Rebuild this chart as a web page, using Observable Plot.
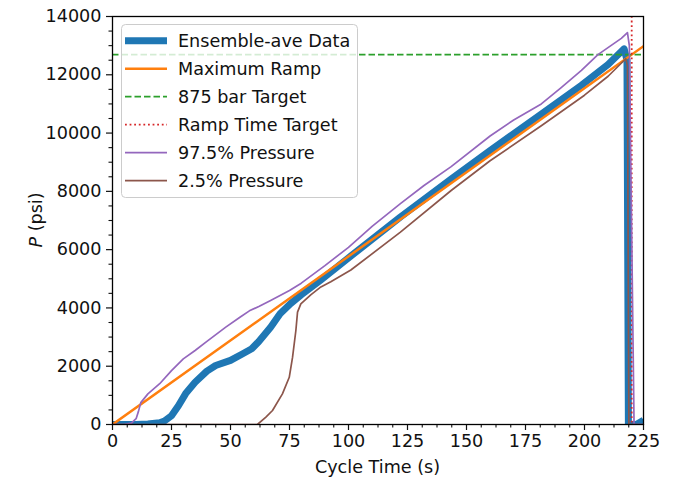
<!DOCTYPE html>
<html>
<head>
<meta charset="utf-8">
<script src="https://cdn.jsdelivr.net/npm/d3@7"></script>
<script src="https://cdn.jsdelivr.net/npm/@observablehq/plot@0.6"></script>
<style>
  html, body { margin: 0; padding: 0; background: white; }
  #wrap { position: relative; width: 673px; height: 477px; }
  #legend { position: absolute; left: 0; top: 0; pointer-events: none; }
</style>
</head>
<body>
<div id="wrap"></div>
<script>
// ---------- data ----------
const blueT = [0, 10, 15, 20, 22, 25, 28, 31, 35, 40, 43.7, 50, 55, 59, 62, 67, 71, 75.5, 80, 88, 101, 122, 143.5, 160, 181.7, 198.7, 210, 216.8, 218, 218.6, 222, 225];
const blueP = [0, 0, 20, 60, 120, 300, 650, 1060, 1450, 1830, 2025, 2200, 2420, 2600, 2850, 3340, 3800, 4150, 4450, 4940, 5780, 7120, 8420, 9400, 10650, 11640, 12350, 12890, 12500, 0, 0, 150];

const rampT = [0, 225];
const rampP = [0, 12980];

const targetP = 12691;   // 875 bar
const rampTimeT = 220;   // ramp time target (s)

const purpleT = [0, 5, 8, 10, 11, 12, 15, 20, 25, 30, 35, 40, 48, 54, 58, 62, 67, 75, 80, 90, 100, 110, 122, 132, 143.5, 160, 170, 181.7, 190, 198.7, 205.7, 215.6, 218.2, 219, 221, 225];
const purpleP = [0, 0, 50, 200, 450, 750, 1050, 1400, 1850, 2250, 2540, 2850, 3340, 3680, 3900, 4050, 4255, 4600, 4850, 5450, 6080, 6800, 7580, 8200, 8850, 9900, 10450, 11000, 11550, 12150, 12691, 13250, 13450, 13000, 0, 0];

const brownT = [0, 61.4, 65, 67.8, 72, 74.9, 76.3, 77.7, 78.4, 79.8, 84, 88.3, 92.5, 101, 122, 143.5, 160, 181.7, 200, 210, 217.5, 218.2, 218.8, 225];
const brownP = [0, 0, 250, 480, 1050, 1620, 2310, 3225, 3855, 4140, 4450, 4720, 4900, 5300, 6600, 8030, 9050, 10250, 11300, 11950, 12550, 12300, 0, 0];

const xMajor = [0, 25, 50, 75, 100, 125, 150, 175, 200, 225];
const xMinor = [6.25, 12.5, 18.75, 31.25, 37.5, 43.75, 56.25, 62.5, 68.75, 81.25, 87.5, 93.75, 106.25, 112.5, 118.75, 131.25, 137.5, 143.75, 156.25, 162.5, 168.75, 181.25, 187.5, 193.75, 206.25, 212.5, 218.75];
const yMajor = [0, 2000, 4000, 6000, 8000, 10000, 12000, 14000];
const yMinor = [500, 1000, 1500, 2500, 3000, 3500, 4500, 5000, 5500, 6500, 7000, 7500, 8500, 9000, 9500, 10500, 11000, 11500, 12500, 13000, 13500];

const legendLabels = ["Ensemble-ave Data", "Maximum Ramp", "875 bar Target", "Ramp Time Target", "97.5% Pressure", "2.5% Pressure"];

// ---------- build tables ----------
const zip = (T, P) => T.map((t, i) => ({t, p: P[i]}));
const blue = zip(blueT, blueP);
const ramp = zip(rampT, rampP);
const purple = zip(purpleT, purpleP);
const brown = zip(brownT, brownP);

// ---------- styles ----------
const FONT = "'DejaVu Sans', 'Liberation Sans', sans-serif";
const FS = 17.6;
const styles = [
  {stroke: "#1f77b4", width: 7, dash: null},
  {stroke: "#ff7f0e", width: 2.5, dash: null},
  {stroke: "#2ca02c", width: 1.8, dash: "6.5,3"},
  {stroke: "#d62728", width: 1.8, dash: "1.8,2.8"},
  {stroke: "#9467bd", width: 1.7, dash: null},
  {stroke: "#8c564b", width: 1.7, dash: null}
];

const chart = Plot.plot({
  width: 673,
  height: 477,
  marginLeft: 112,
  marginRight: 30,
  marginTop: 16,
  marginBottom: 53,
  x: {domain: [0, 225]},
  y: {domain: [0, 14000]},
  style: {fontFamily: FONT, fontSize: FS + "px", color: "#111", background: "white"},
  marks: [
    Plot.line(blue, {x: "t", y: "p", stroke: styles[0].stroke, strokeWidth: styles[0].width, clip: true, strokeLinecap: "butt"}),
    Plot.line(ramp, {x: "t", y: "p", stroke: styles[1].stroke, strokeWidth: styles[1].width, clip: true}),
    Plot.ruleY([targetP], {stroke: styles[2].stroke, strokeWidth: styles[2].width, strokeDasharray: styles[2].dash}),
    Plot.ruleX([rampTimeT], {stroke: styles[3].stroke, strokeWidth: styles[3].width, strokeDasharray: styles[3].dash}),
    Plot.line(purple, {x: "t", y: "p", stroke: styles[4].stroke, strokeWidth: styles[4].width, clip: true}),
    Plot.line(brown, {x: "t", y: "p", stroke: styles[5].stroke, strokeWidth: styles[5].width, clip: true}),
    Plot.axisX({ticks: xMajor, tickSize: 6, tickPadding: 4, tickFormat: d => String(d), label: null, strokeWidth: 1.2}),
    Plot.axisX({ticks: xMinor, tickSize: 3.5, tickFormat: () => "", label: null, strokeWidth: 1.1}),
    Plot.axisY({ticks: yMajor, tickSize: 6, tickPadding: 5, tickFormat: d => String(d), label: null, strokeWidth: 1.2}),
    Plot.axisY({ticks: yMinor, tickSize: 3.5, tickFormat: () => "", label: null, strokeWidth: 1.1}),
    Plot.frame({stroke: "black", strokeWidth: 1.3})
  ]
});

const wrap = document.getElementById("wrap");
wrap.appendChild(chart);

// axis labels
const svg = d3.select(chart);
svg.append("text")
  .attr("x", (112 + 643) / 2).attr("y", 473)
  .attr("text-anchor", "middle")
  .attr("font-family", FONT).attr("font-size", FS).attr("fill", "#111")
  .text("Cycle Time (s)");
const yl = svg.append("text")
  .attr("transform", "translate(42,220) rotate(-90)")
  .attr("text-anchor", "middle")
  .attr("font-family", FONT).attr("font-size", FS).attr("fill", "#111");
yl.append("tspan").attr("font-style", "italic").text("P");
yl.append("tspan").text(" (psi)");

// legend overlay
const leg = d3.select(wrap).append("svg")
  .attr("id", "legend").attr("width", 673).attr("height", 477);
leg.append("rect")
  .attr("x", 121.5).attr("y", 24.5).attr("width", 236).attr("height", 173)
  .attr("rx", 4).attr("fill", "white").attr("fill-opacity", 0.8)
  .attr("stroke", "#cccccc").attr("stroke-width", 1);
legendLabels.forEach((lab, i) => {
  const cy = 40.7 + i * 28;
  const s = styles[i];
  leg.append("line")
    .attr("x1", 125).attr("x2", 167).attr("y1", cy).attr("y2", cy)
    .attr("stroke", s.stroke).attr("stroke-width", s.width)
    .attr("stroke-dasharray", s.dash);
  leg.append("text")
    .attr("x", 178).attr("y", cy).attr("dy", "0.36em")
    .attr("font-family", FONT).attr("font-size", FS).attr("fill", "#111")
    .text(lab);
});
</script>
</body>
</html>
